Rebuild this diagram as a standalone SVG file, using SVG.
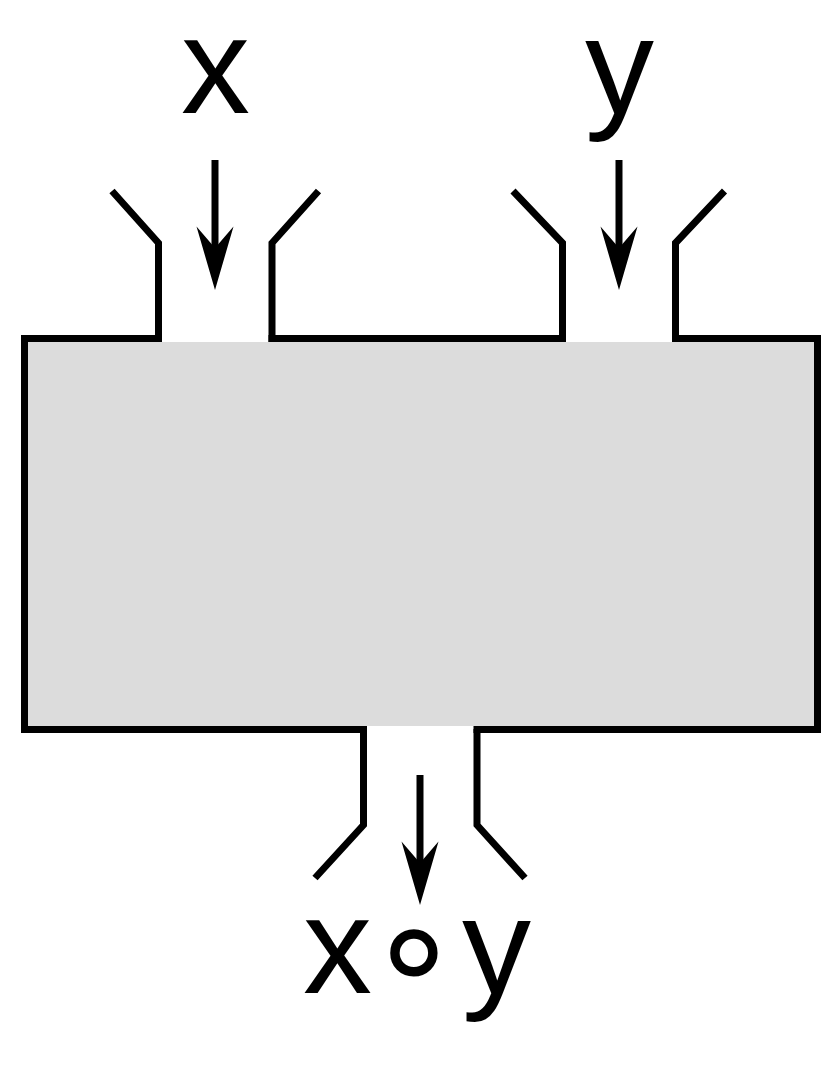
<svg xmlns="http://www.w3.org/2000/svg" width="840" height="1070" viewBox="0 0 840 1070">
<style>
.wall{fill:none;stroke:#000;stroke-width:7;stroke-linejoin:miter;stroke-linecap:butt}
.shaft{fill:none;stroke:#000;stroke-width:7}
.head{fill:#000;stroke:none}
.lbl{font-family:"Liberation Sans",Arial,"DejaVu Sans",sans-serif;font-size:138px;fill:#000}
</style>
<defs>
<path id="ah" class="head" d="M0,0 L-18.5,-63.5 L0,-42 L18.5,-63.5 Z"/>
</defs>
<rect width="840" height="1070" fill="#fff"/>
<g id="box">
<rect x="28" y="342" width="786" height="384" fill="#dcdcdc"/>
<path class="wall" d="M158.5,342 V338.5 H24.5 V729.5 H363.5 V733"/>
<path class="wall" d="M272,342 V338.5 H562.5 V342"/>
<path class="wall" d="M675.5,342 V338.5 H817.5 V729.5 H477 V733"/>
</g>
<g id="input-x">
<path class="wall" d="M112,191 L158.5,243 V342"/>
<path class="wall" d="M318.5,191 L272,243 V342"/>
<text class="lbl" x="215.5" y="113" text-anchor="middle">x</text>
</g>
<g id="input-y">
<path class="wall" d="M513,191 L562.5,243 V342"/>
<path class="wall" d="M724.5,191 L675.5,243 V342"/>
<text class="lbl" x="619.5" y="113" text-anchor="middle">y</text>
</g>
<g id="output">
<path class="wall" d="M315,878 L363.5,825 V729"/>
<path class="wall" d="M525,878 L477,825 V729"/>
<text class="lbl" y="993"><tspan x="303">x</tspan><tspan x="366" dy="8" font-size="153" font-family="DejaVu Sans, sans-serif">∘</tspan><tspan x="462" dy="-8">y</tspan></text>
</g>
<g id="connectors">
<line class="shaft" x1="215" y1="160" x2="215" y2="250"/>
<use href="#ah" x="215" y="290"/>
<line class="shaft" x1="619" y1="160" x2="619" y2="250"/>
<use href="#ah" x="619" y="290"/>
<line class="shaft" x1="420" y1="775" x2="420" y2="865"/>
<use href="#ah" x="420" y="905"/>
</g>
</svg>
